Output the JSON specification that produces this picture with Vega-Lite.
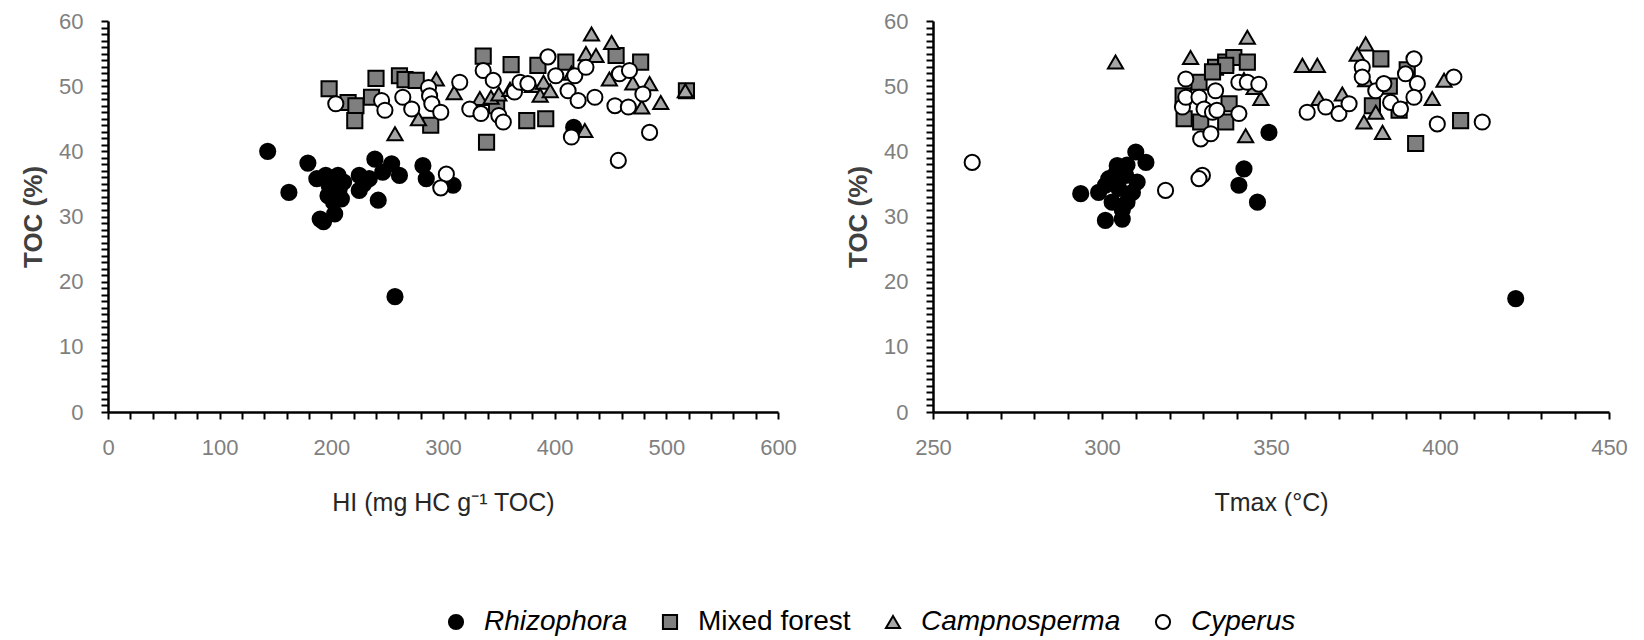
{
  "$schema": "https://vega.github.io/schema/vega-lite/v6.json",
  "padding": {"left": 20, "top": 10, "right": 5, "bottom": 5},
  "background": "white",
  "bounds": "flush",
  "spacing": 155,
  "datasets": {
    "hi": [
      {"g": "Rhizophora", "HI": 143, "TOC": 40.0},
      {"g": "Rhizophora", "HI": 162, "TOC": 33.7},
      {"g": "Rhizophora", "HI": 179, "TOC": 38.2},
      {"g": "Rhizophora", "HI": 187, "TOC": 35.8},
      {"g": "Rhizophora", "HI": 195, "TOC": 36.3},
      {"g": "Rhizophora", "HI": 206, "TOC": 36.3},
      {"g": "Rhizophora", "HI": 198, "TOC": 34.8},
      {"g": "Rhizophora", "HI": 207, "TOC": 34.2},
      {"g": "Rhizophora", "HI": 197, "TOC": 33.2},
      {"g": "Rhizophora", "HI": 209, "TOC": 32.7},
      {"g": "Rhizophora", "HI": 202, "TOC": 32.2},
      {"g": "Rhizophora", "HI": 190, "TOC": 29.6},
      {"g": "Rhizophora", "HI": 203, "TOC": 30.4},
      {"g": "Rhizophora", "HI": 193, "TOC": 29.2},
      {"g": "Rhizophora", "HI": 200, "TOC": 35.5},
      {"g": "Rhizophora", "HI": 211, "TOC": 35.3},
      {"g": "Rhizophora", "HI": 229, "TOC": 35.0},
      {"g": "Rhizophora", "HI": 225, "TOC": 36.3},
      {"g": "Rhizophora", "HI": 225, "TOC": 34.0},
      {"g": "Rhizophora", "HI": 234, "TOC": 35.8},
      {"g": "Rhizophora", "HI": 239, "TOC": 38.8},
      {"g": "Rhizophora", "HI": 242, "TOC": 32.5},
      {"g": "Rhizophora", "HI": 246, "TOC": 36.8},
      {"g": "Rhizophora", "HI": 254, "TOC": 38.1},
      {"g": "Rhizophora", "HI": 261, "TOC": 36.3},
      {"g": "Rhizophora", "HI": 257, "TOC": 17.7},
      {"g": "Rhizophora", "HI": 282, "TOC": 37.8},
      {"g": "Rhizophora", "HI": 285, "TOC": 35.8},
      {"g": "Rhizophora", "HI": 309, "TOC": 34.8},
      {"g": "Rhizophora", "HI": 417, "TOC": 43.7},
      {"g": "Mixed forest", "HI": 198, "TOC": 49.6},
      {"g": "Mixed forest", "HI": 215, "TOC": 47.5},
      {"g": "Mixed forest", "HI": 222, "TOC": 47.0},
      {"g": "Mixed forest", "HI": 221, "TOC": 44.7},
      {"g": "Mixed forest", "HI": 240, "TOC": 51.2},
      {"g": "Mixed forest", "HI": 236, "TOC": 48.3},
      {"g": "Mixed forest", "HI": 261, "TOC": 51.6},
      {"g": "Mixed forest", "HI": 266, "TOC": 51.0},
      {"g": "Mixed forest", "HI": 276, "TOC": 50.9},
      {"g": "Mixed forest", "HI": 289, "TOC": 44.0},
      {"g": "Mixed forest", "HI": 336, "TOC": 54.6},
      {"g": "Mixed forest", "HI": 339, "TOC": 41.4},
      {"g": "Mixed forest", "HI": 348, "TOC": 47.0},
      {"g": "Mixed forest", "HI": 361, "TOC": 53.3},
      {"g": "Mixed forest", "HI": 375, "TOC": 44.7},
      {"g": "Mixed forest", "HI": 385, "TOC": 53.2},
      {"g": "Mixed forest", "HI": 392, "TOC": 45.0},
      {"g": "Mixed forest", "HI": 410, "TOC": 53.7},
      {"g": "Mixed forest", "HI": 455, "TOC": 54.7},
      {"g": "Mixed forest", "HI": 477, "TOC": 53.7},
      {"g": "Mixed forest", "HI": 518, "TOC": 49.3},
      {"g": "Campnosperma", "HI": 257, "TOC": 42.7},
      {"g": "Campnosperma", "HI": 294, "TOC": 51.1},
      {"g": "Campnosperma", "HI": 278, "TOC": 45.0},
      {"g": "Campnosperma", "HI": 310, "TOC": 49.0},
      {"g": "Campnosperma", "HI": 333, "TOC": 48.1},
      {"g": "Campnosperma", "HI": 343, "TOC": 48.3},
      {"g": "Campnosperma", "HI": 350, "TOC": 48.8},
      {"g": "Campnosperma", "HI": 360, "TOC": 49.5},
      {"g": "Campnosperma", "HI": 380, "TOC": 50.1},
      {"g": "Campnosperma", "HI": 390, "TOC": 50.6},
      {"g": "Campnosperma", "HI": 387, "TOC": 48.6},
      {"g": "Campnosperma", "HI": 396, "TOC": 49.3},
      {"g": "Campnosperma", "HI": 415, "TOC": 52.0},
      {"g": "Campnosperma", "HI": 428, "TOC": 55.0},
      {"g": "Campnosperma", "HI": 433, "TOC": 58.0},
      {"g": "Campnosperma", "HI": 437, "TOC": 54.7},
      {"g": "Campnosperma", "HI": 449, "TOC": 51.1},
      {"g": "Campnosperma", "HI": 451, "TOC": 56.7},
      {"g": "Campnosperma", "HI": 470, "TOC": 50.5},
      {"g": "Campnosperma", "HI": 485, "TOC": 50.4},
      {"g": "Campnosperma", "HI": 495, "TOC": 47.5},
      {"g": "Campnosperma", "HI": 478, "TOC": 46.8},
      {"g": "Campnosperma", "HI": 517, "TOC": 49.3},
      {"g": "Campnosperma", "HI": 427, "TOC": 43.2},
      {"g": "Cyperus", "HI": 204, "TOC": 47.3},
      {"g": "Cyperus", "HI": 245, "TOC": 47.8},
      {"g": "Cyperus", "HI": 248, "TOC": 46.3},
      {"g": "Cyperus", "HI": 264, "TOC": 48.3},
      {"g": "Cyperus", "HI": 272, "TOC": 46.5},
      {"g": "Cyperus", "HI": 287, "TOC": 49.8},
      {"g": "Cyperus", "HI": 288, "TOC": 48.5},
      {"g": "Cyperus", "HI": 290, "TOC": 47.3},
      {"g": "Cyperus", "HI": 298, "TOC": 46.0},
      {"g": "Cyperus", "HI": 303, "TOC": 36.5},
      {"g": "Cyperus", "HI": 298, "TOC": 34.4},
      {"g": "Cyperus", "HI": 315, "TOC": 50.6},
      {"g": "Cyperus", "HI": 324, "TOC": 46.5},
      {"g": "Cyperus", "HI": 334, "TOC": 45.8},
      {"g": "Cyperus", "HI": 336, "TOC": 52.4},
      {"g": "Cyperus", "HI": 345, "TOC": 50.9},
      {"g": "Cyperus", "HI": 350, "TOC": 45.5},
      {"g": "Cyperus", "HI": 354, "TOC": 44.5},
      {"g": "Cyperus", "HI": 364, "TOC": 49.1},
      {"g": "Cyperus", "HI": 369, "TOC": 50.6},
      {"g": "Cyperus", "HI": 376, "TOC": 50.4},
      {"g": "Cyperus", "HI": 394, "TOC": 54.5},
      {"g": "Cyperus", "HI": 401, "TOC": 51.6},
      {"g": "Cyperus", "HI": 412, "TOC": 49.3},
      {"g": "Cyperus", "HI": 418, "TOC": 51.6},
      {"g": "Cyperus", "HI": 421, "TOC": 47.8},
      {"g": "Cyperus", "HI": 428, "TOC": 52.9},
      {"g": "Cyperus", "HI": 436, "TOC": 48.3},
      {"g": "Cyperus", "HI": 454, "TOC": 47.0},
      {"g": "Cyperus", "HI": 458, "TOC": 51.9},
      {"g": "Cyperus", "HI": 466, "TOC": 46.8},
      {"g": "Cyperus", "HI": 467, "TOC": 52.4},
      {"g": "Cyperus", "HI": 479, "TOC": 48.8},
      {"g": "Cyperus", "HI": 485, "TOC": 42.9},
      {"g": "Cyperus", "HI": 415, "TOC": 42.2},
      {"g": "Cyperus", "HI": 457, "TOC": 38.6}
    ],
    "tmax": [
      {"g": "Rhizophora", "Tmax": 293.7, "TOC": 33.5},
      {"g": "Rhizophora", "Tmax": 299, "TOC": 33.7},
      {"g": "Rhizophora", "Tmax": 301, "TOC": 29.4},
      {"g": "Rhizophora", "Tmax": 306, "TOC": 29.6},
      {"g": "Rhizophora", "Tmax": 304.5, "TOC": 37.8},
      {"g": "Rhizophora", "Tmax": 310, "TOC": 39.9},
      {"g": "Rhizophora", "Tmax": 313, "TOC": 38.3},
      {"g": "Rhizophora", "Tmax": 302, "TOC": 35.8},
      {"g": "Rhizophora", "Tmax": 307, "TOC": 36.3},
      {"g": "Rhizophora", "Tmax": 303, "TOC": 32.2},
      {"g": "Rhizophora", "Tmax": 309, "TOC": 33.7},
      {"g": "Rhizophora", "Tmax": 305, "TOC": 34.3},
      {"g": "Rhizophora", "Tmax": 301, "TOC": 34.8},
      {"g": "Rhizophora", "Tmax": 307.4, "TOC": 32.2},
      {"g": "Rhizophora", "Tmax": 310.4, "TOC": 35.3},
      {"g": "Rhizophora", "Tmax": 307.4, "TOC": 37.9},
      {"g": "Rhizophora", "Tmax": 304, "TOC": 36.5},
      {"g": "Rhizophora", "Tmax": 306, "TOC": 31.0},
      {"g": "Rhizophora", "Tmax": 349.4, "TOC": 42.9},
      {"g": "Rhizophora", "Tmax": 342, "TOC": 37.3},
      {"g": "Rhizophora", "Tmax": 340.5, "TOC": 34.8},
      {"g": "Rhizophora", "Tmax": 346, "TOC": 32.2},
      {"g": "Rhizophora", "Tmax": 422.4, "TOC": 17.4},
      {"g": "Mixed forest", "Tmax": 324.3, "TOC": 45.0},
      {"g": "Mixed forest", "Tmax": 329.2, "TOC": 44.5},
      {"g": "Mixed forest", "Tmax": 328.7, "TOC": 50.6},
      {"g": "Mixed forest", "Tmax": 333.6, "TOC": 52.9},
      {"g": "Mixed forest", "Tmax": 336.6, "TOC": 53.7},
      {"g": "Mixed forest", "Tmax": 339, "TOC": 54.4},
      {"g": "Mixed forest", "Tmax": 336.6, "TOC": 53.2},
      {"g": "Mixed forest", "Tmax": 343, "TOC": 53.7},
      {"g": "Mixed forest", "Tmax": 332.7, "TOC": 52.2},
      {"g": "Mixed forest", "Tmax": 336.6, "TOC": 44.5},
      {"g": "Mixed forest", "Tmax": 337.6, "TOC": 47.3},
      {"g": "Mixed forest", "Tmax": 324, "TOC": 48.5},
      {"g": "Mixed forest", "Tmax": 382.5, "TOC": 54.2},
      {"g": "Mixed forest", "Tmax": 392.8, "TOC": 41.2},
      {"g": "Mixed forest", "Tmax": 406.1, "TOC": 44.7},
      {"g": "Mixed forest", "Tmax": 387.9, "TOC": 46.3},
      {"g": "Mixed forest", "Tmax": 390.3, "TOC": 52.5},
      {"g": "Mixed forest", "Tmax": 380, "TOC": 47.0},
      {"g": "Mixed forest", "Tmax": 385, "TOC": 50.0},
      {"g": "Campnosperma", "Tmax": 304, "TOC": 53.7},
      {"g": "Campnosperma", "Tmax": 326.2, "TOC": 54.4},
      {"g": "Campnosperma", "Tmax": 343, "TOC": 57.5},
      {"g": "Campnosperma", "Tmax": 347, "TOC": 48.1},
      {"g": "Campnosperma", "Tmax": 342.5, "TOC": 42.4},
      {"g": "Campnosperma", "Tmax": 345, "TOC": 49.8},
      {"g": "Campnosperma", "Tmax": 342, "TOC": 51.0},
      {"g": "Campnosperma", "Tmax": 359.3, "TOC": 53.2},
      {"g": "Campnosperma", "Tmax": 363.7, "TOC": 53.2},
      {"g": "Campnosperma", "Tmax": 378, "TOC": 56.5},
      {"g": "Campnosperma", "Tmax": 375.5, "TOC": 54.9},
      {"g": "Campnosperma", "Tmax": 364.2, "TOC": 48.1},
      {"g": "Campnosperma", "Tmax": 371.1, "TOC": 48.8},
      {"g": "Campnosperma", "Tmax": 377.5, "TOC": 44.5},
      {"g": "Campnosperma", "Tmax": 383, "TOC": 42.9},
      {"g": "Campnosperma", "Tmax": 381, "TOC": 46.0},
      {"g": "Campnosperma", "Tmax": 378, "TOC": 51.0},
      {"g": "Campnosperma", "Tmax": 397.7, "TOC": 48.1},
      {"g": "Campnosperma", "Tmax": 401.2, "TOC": 50.9},
      {"g": "Cyperus", "Tmax": 261.6, "TOC": 38.3},
      {"g": "Cyperus", "Tmax": 318.8, "TOC": 34.0},
      {"g": "Cyperus", "Tmax": 329.7, "TOC": 36.3},
      {"g": "Cyperus", "Tmax": 328.7, "TOC": 35.8},
      {"g": "Cyperus", "Tmax": 324.8, "TOC": 51.1},
      {"g": "Cyperus", "Tmax": 323.8, "TOC": 46.8},
      {"g": "Cyperus", "Tmax": 324.8, "TOC": 48.3},
      {"g": "Cyperus", "Tmax": 328.7, "TOC": 48.3},
      {"g": "Cyperus", "Tmax": 330.2, "TOC": 46.5},
      {"g": "Cyperus", "Tmax": 332.7, "TOC": 46.0},
      {"g": "Cyperus", "Tmax": 333.6, "TOC": 49.3},
      {"g": "Cyperus", "Tmax": 329.2, "TOC": 41.9},
      {"g": "Cyperus", "Tmax": 332.2, "TOC": 42.7},
      {"g": "Cyperus", "Tmax": 340.5, "TOC": 50.6},
      {"g": "Cyperus", "Tmax": 343, "TOC": 50.6},
      {"g": "Cyperus", "Tmax": 346.4, "TOC": 50.3},
      {"g": "Cyperus", "Tmax": 340.5, "TOC": 45.8},
      {"g": "Cyperus", "Tmax": 334, "TOC": 46.3},
      {"g": "Cyperus", "Tmax": 360.7, "TOC": 46.0},
      {"g": "Cyperus", "Tmax": 366.2, "TOC": 46.8},
      {"g": "Cyperus", "Tmax": 370.1, "TOC": 45.8},
      {"g": "Cyperus", "Tmax": 373.1, "TOC": 47.3},
      {"g": "Cyperus", "Tmax": 377, "TOC": 52.9},
      {"g": "Cyperus", "Tmax": 377, "TOC": 51.4},
      {"g": "Cyperus", "Tmax": 381, "TOC": 49.3},
      {"g": "Cyperus", "Tmax": 383.4, "TOC": 50.4},
      {"g": "Cyperus", "Tmax": 385.4, "TOC": 47.5},
      {"g": "Cyperus", "Tmax": 388.3, "TOC": 46.5},
      {"g": "Cyperus", "Tmax": 389.8, "TOC": 51.9},
      {"g": "Cyperus", "Tmax": 392.3, "TOC": 54.2},
      {"g": "Cyperus", "Tmax": 393.3, "TOC": 50.4},
      {"g": "Cyperus", "Tmax": 392.3, "TOC": 48.3},
      {"g": "Cyperus", "Tmax": 404.1, "TOC": 51.4},
      {"g": "Cyperus", "Tmax": 399.2, "TOC": 44.2},
      {"g": "Cyperus", "Tmax": 412.5, "TOC": 44.5}
    ]
  },
  "hconcat": [
    {
      "width": 670,
      "height": 391,
      "data": {"name": "hi"},
      "mark": {"type": "point", "filled": true, "stroke": "black", "strokeWidth": 2, "opacity": 1, "size": 230},
      "encoding": {
        "x": {
          "field": "HI", "type": "quantitative",
          "scale": {"domain": [0, 600], "nice": false, "zero": false},
          "axis": {
            "title": "HI (mg HC g⁻¹ TOC)",
            "values": [0,20,40,60,80,100,120,140,160,180,200,220,240,260,280,300,320,340,360,380,400,420,440,460,480,500,520,540,560,580,600],
            "labelExpr": "datum.value % 100 === 0 ? datum.label : ''"
          }
        },
        "y": {
          "field": "TOC", "type": "quantitative",
          "scale": {"domain": [0, 60], "nice": false},
          "axis": {
            "title": "TOC (%)",
            "values": [0,1,2,3,4,5,6,7,8,9,10,11,12,13,14,15,16,17,18,19,20,21,22,23,24,25,26,27,28,29,30,31,32,33,34,35,36,37,38,39,40,41,42,43,44,45,46,47,48,49,50,51,52,53,54,55,56,57,58,59,60],
            "labelExpr": "datum.value % 10 === 0 ? datum.label : ''"
          }
        },
        "shape": {
          "field": "g", "type": "nominal",
          "scale": {"domain": ["Rhizophora", "Mixed forest", "Campnosperma", "Cyperus"], "range": ["circle", "square", "triangle-up", "circle"]},
          "legend": {"orient": "none", "legendX": 334, "legendY": 587, "direction": "horizontal", "title": null,
            "labelFontStyle": {"expr": "datum.value === 'Mixed forest' ? 'normal' : 'italic'"}}
        },
        "fill": {
          "field": "g", "type": "nominal",
          "scale": {"domain": ["Rhizophora", "Mixed forest", "Campnosperma", "Cyperus"], "range": ["#000000", "#7f7f7f", "#a6a6a6", "#ffffff"]},
          "legend": {"orient": "none", "legendX": 334, "legendY": 587, "direction": "horizontal", "title": null,
            "labelFontStyle": {"expr": "datum.value === 'Mixed forest' ? 'normal' : 'italic'"}}
        },
        "stroke": {
          "field": "g", "type": "nominal",
          "scale": {"domain": ["Rhizophora", "Mixed forest", "Campnosperma", "Cyperus"], "range": ["#000000", "#000000", "#000000", "#000000"]},
          "legend": {"orient": "none", "legendX": 334, "legendY": 587, "direction": "horizontal", "title": null,
            "labelFontStyle": {"expr": "datum.value === 'Mixed forest' ? 'normal' : 'italic'"}}
        }
      }
    },
    {
      "width": 676,
      "height": 391,
      "data": {"name": "tmax"},
      "mark": {"type": "point", "filled": true, "stroke": "black", "strokeWidth": 2, "opacity": 1, "size": 230},
      "encoding": {
        "x": {
          "field": "Tmax", "type": "quantitative",
          "scale": {"domain": [250, 450], "nice": false, "zero": false},
          "axis": {
            "title": "Tmax (°C)",
            "values": [250,260,270,280,290,300,310,320,330,340,350,360,370,380,390,400,410,420,430,440,450],
            "labelExpr": "datum.value % 50 === 0 ? datum.label : ''"
          }
        },
        "y": {
          "field": "TOC", "type": "quantitative",
          "scale": {"domain": [0, 60], "nice": false},
          "axis": {
            "title": "TOC (%)",
            "values": [0,1,2,3,4,5,6,7,8,9,10,11,12,13,14,15,16,17,18,19,20,21,22,23,24,25,26,27,28,29,30,31,32,33,34,35,36,37,38,39,40,41,42,43,44,45,46,47,48,49,50,51,52,53,54,55,56,57,58,59,60],
            "labelExpr": "datum.value % 10 === 0 ? datum.label : ''"
          }
        },
        "shape": {
          "field": "g", "type": "nominal",
          "scale": {"domain": ["Rhizophora", "Mixed forest", "Campnosperma", "Cyperus"], "range": ["circle", "square", "triangle-up", "circle"]},
          "legend": null
        },
        "fill": {
          "field": "g", "type": "nominal",
          "scale": {"domain": ["Rhizophora", "Mixed forest", "Campnosperma", "Cyperus"], "range": ["#000000", "#7f7f7f", "#a6a6a6", "#ffffff"]},
          "legend": null
        }
      }
    }
  ],
  "resolve": {"scale": {"shape": "independent", "fill": "independent", "stroke": "independent"}, "legend": {"shape": "independent", "fill": "independent", "stroke": "independent"}},
  "config": {
    "view": {"stroke": null},
    "axis": {
      "grid": false,
      "domainColor": "#000000",
      "domainWidth": 2.5,
      "tickColor": "#000000",
      "tickWidth": 2,
      "tickSize": 7,
      "labelColor": "#7f7f7f",
      "labelFont": "Liberation Sans",
      "labelFontSize": 22,
      "labelPadding": 18,
      "labelOverlap": false,
      "labelFlush": false,
      "titleFont": "Liberation Sans",
      "titleColor": "#262626"
    },
    "axisX": {"titleFontSize": 25, "titleFontWeight": "normal", "titlePadding": 32},
    "axisY": {"titleFontSize": 26, "titleFontWeight": "bold", "titleColor": "#404040", "titlePadding": 12},
    "legend": {
      "labelFont": "Liberation Sans",
      "labelFontSize": 28,
      "labelColor": "#000000",
      "symbolSize": 200,
      "symbolStrokeColor": "#000000",
      "symbolStrokeWidth": 2,
      "labelOffset": 14,
      "columnPadding": 28,
      "labelLimit": 400
    }
  }
}
